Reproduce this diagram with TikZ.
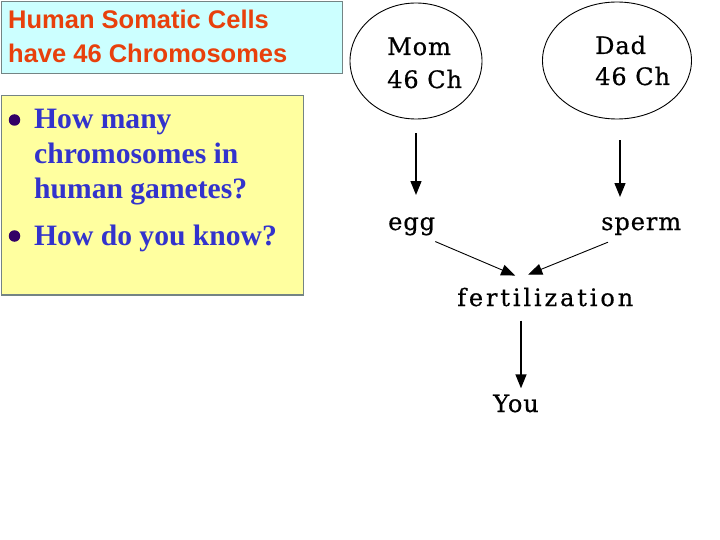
\documentclass[tikz,border=0pt]{standalone}
\usepackage{fontspec}
\usetikzlibrary{arrows.meta,shapes.geometric}
\newfontfamily\arialf{Liberation Sans}
\newfontfamily\tmsf{Liberation Serif}
\newfontfamily\dgf[LetterSpace=4,FakeBold=0.6]{DejaVu Serif}
\newfontfamily\dgwf[LetterSpace=12,FakeBold=0.6]{DejaVu Serif}
\definecolor{titlered}{HTML}{E8400C}
\definecolor{titlecyan}{HTML}{CCFFFF}
\definecolor{boxgray}{HTML}{748484}
\definecolor{qyellow}{HTML}{FFFF9F}
\definecolor{qblue}{HTML}{3333CC}
\definecolor{bulletpurple}{HTML}{330066}
\begin{document}
\begin{tikzpicture}[x=1pt,y=-1pt,
  titletext/.style={anchor=base west,inner sep=0pt,text=titlered,font=\arialf\bfseries\fontsize{25.5}{30}\selectfont},
  qtext/.style={anchor=base west,inner sep=0pt,text=qblue,font=\tmsf\bfseries\fontsize{29.6}{34}\selectfont},
  dtext/.style={anchor=base west,inner sep=0pt,font=\dgf\fontsize{24}{28}\selectfont},
  dwtext/.style={anchor=base west,inner sep=0pt,font=\dgwf\fontsize{24}{28}\selectfont},
  parent/.style={draw,ellipse,line width=0.9pt,inner sep=0pt},
  bigarr/.style={line width=1.4pt,-{Triangle[length=14pt,width=11pt]}},
  thinarr/.style={line width=0.9pt,-{Triangle[length=14pt,width=11pt]}}]
\useasboundingbox (0,0) rectangle (720,540);
% title box
\node[draw=boxgray,fill=titlecyan,line width=1.5pt,minimum width=341pt,minimum height=72pt,anchor=north west,inner sep=0pt] (titlebox) at (0.75,0.75) {};
\node[titletext] (t1) at (8,29) {Human Somatic Cells};
\node[titletext] (t2) at (8,63) {have 46 Chromosomes};
% question box
\node[draw=boxgray,fill=qyellow,line width=1.5pt,minimum width=302pt,minimum height=199pt,anchor=north west,inner sep=0pt] (qbox) at (0.75,95) {};
\node[circle,fill=bulletpurple,minimum size=11.5pt,inner sep=0pt] (b1) at (14.5,120) {};
\node[circle,fill=bulletpurple,minimum size=11.5pt,inner sep=0pt] (b2) at (14.5,236) {};
\node[qtext] (q1) at (34,129) {How many};
\node[qtext] (q2) at (34,164) {chromosomes in};
\node[qtext] (q3) at (34,199) {human gametes?};
\node[qtext] (q4) at (34,245) {How do you know?};
% parents
\node[parent,minimum width=132pt,minimum height=116pt] (mom) at (416,61) {};
\node[parent,minimum width=149pt,minimum height=117pt] (dad) at (617,60.5) {};
\node[dtext] (mom1) at (387,55) {Mom};
\node[dtext] (mom2) at (387,88) {46 Ch};
\node[dtext] (dad1) at (595,54) {Dad};
\node[dtext] (dad2) at (595,85) {46 Ch};
% gametes
\node[dtext] (egg) at (388,230) {egg};
\node[dtext] (sperm) at (601,230) {sperm};
\node[dwtext] (fert) at (457,306) {fertilization};
\node[dtext] (you) at (493,412) {You};
% arrows
\draw[bigarr] ([shift={(0,14)}]mom.south) -- ([shift={(0,-22)}]mom.south |- egg.north);
\draw[bigarr] ([shift={(3,21)}]dad.south) -- ([shift={(3,-20)}]dad.south |- sperm.north);
\draw[thinarr] ([shift={(0,6)}]egg.south east) -- ([shift={(-30,-12)}]fert.north);
\draw[thinarr] ([shift={(7,7)}]sperm.south west) -- ([shift={(-17,-13)}]fert.north);
\draw[bigarr] ([shift={(5,14)}]you.north |- fert.south) -- ([shift={(5,-6)}]you.north);
\end{tikzpicture}
\end{document}
